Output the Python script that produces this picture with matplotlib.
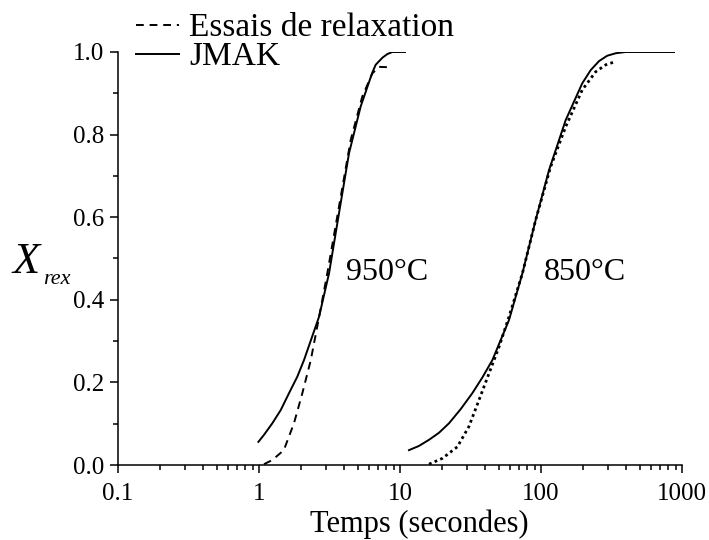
import matplotlib
matplotlib.use("Agg")
import matplotlib.pyplot as plt
from matplotlib.ticker import MultipleLocator, FixedLocator, LogLocator, NullFormatter

# 950°C : essais de relaxation (courbe tiretée)
t_exp_950 = [1.085, 1.243, 1.50, 1.77, 2.03, 2.33, 2.67, 3.05, 3.69, 4.47, 5.40, 6.36, 7.10, 8.59]
x_exp_950 = [0.002, 0.012, 0.036, 0.101, 0.174, 0.254, 0.359, 0.464, 0.625, 0.787, 0.892, 0.948, 0.964, 0.963]

# 950°C : JMAK
t_jmak_950 = [0.99, 1.085, 1.243, 1.426, 1.633, 1.87, 2.085, 2.666, 3.138, 3.69, 4.35, 5.26,
              6.36, 6.72, 7.49, 8.13, 8.82, 10.85]
x_jmak_950 = [0.056, 0.073, 0.101, 0.133, 0.174, 0.214, 0.254, 0.359, 0.464, 0.609, 0.755, 0.868,
              0.950, 0.969, 0.986, 0.995, 1.0, 1.0]

# 850°C : essais de relaxation (pointillés)
t_exp_850 = [16.06, 19.95, 25.5, 30.8, 36.3, 42.8, 50.4, 59.3, 73.8, 91.6, 117, 149.6, 196, 244, 288, 339]
x_exp_850 = [0.002, 0.016, 0.044, 0.093, 0.157, 0.222, 0.286, 0.359, 0.464, 0.593, 0.722, 0.819, 0.908, 0.952, 0.969, 0.977]

# 850°C : JMAK
t_jmak_850 = [11.58, 13.6, 16.06, 18.9, 22.26, 26.9, 32.6, 38.4, 45.2, 59.3, 73.8, 91.6, 114,
              149.6, 196, 225, 258, 295, 339, 398, 878]
x_jmak_850 = [0.036, 0.046, 0.061, 0.078, 0.101, 0.135, 0.174, 0.212, 0.254, 0.351, 0.464, 0.593, 0.714,
              0.835, 0.924, 0.956, 0.978, 0.991, 0.997, 1.0, 1.0]

xticks = [0.1, 1, 10, 100, 1000]
xticklabels = ['0.1', '1', '10', '100', '1000']
yticks = [0.0, 0.2, 0.4, 0.6, 0.8, 1.0]

plt.rcParams['font.family'] = ['Liberation Serif', 'DejaVu Serif']

fig = plt.figure(figsize=(7.09, 5.4), dpi=100)
ax = fig.add_axes([118/709, 75/540, 564/709, 413/540])

lw = 1.4
l_exp, = ax.plot(t_exp_950, x_exp_950, color='black', lw=lw, dashes=(4, 3),
                 label='Essais de relaxation')
l_jmak, = ax.plot(t_jmak_950, x_jmak_950, color='black', lw=lw, label='JMAK')
ax.plot(t_exp_850, x_exp_850, color='black', lw=2.0, dashes=(1, 1.2))
ax.plot(t_jmak_850, x_jmak_850, color='black', lw=lw)

ax.text(4.15, 0.467, '950°C', fontsize=23, va='center', ha='left')
ax.text(105, 0.467, '850°C', fontsize=23, va='center', ha='left')

ax.set_xscale('log')
ax.set_xlim(0.1, 1000)
ax.set_ylim(0, 1)
ax.xaxis.set_major_locator(FixedLocator(xticks))
ax.set_xticklabels(xticklabels)
ax.xaxis.set_minor_locator(LogLocator(base=10, subs=range(2, 10)))
ax.xaxis.set_minor_formatter(NullFormatter())
ax.yaxis.set_major_locator(FixedLocator(yticks))
ax.set_yticklabels([f'{v:.1f}' for v in yticks])
ax.yaxis.set_minor_locator(MultipleLocator(0.1))

for s in ['top', 'right']:
    ax.spines[s].set_visible(False)
for s in ['left', 'bottom']:
    ax.spines[s].set_linewidth(1.1)

ax.tick_params(which='major', direction='out', length=6, width=1.1, labelsize=18, pad=4)
ax.tick_params(axis='x', which='major', pad=7)
ax.tick_params(which='minor', direction='out', length=3.5, width=1.1)

ax.set_xlabel('Temps (secondes)', fontsize=22, va='top')
ax.xaxis.set_label_coords(0.534, -0.108)

fig.text(12/709, 1 - 262/540, 'X', fontsize=32, style='italic', ha='left', va='center')
fig.text(43/709, 1 - 280/540, 'rex', fontsize=16, style='italic', ha='left', va='center')

fig.legend(handles=[l_exp, l_jmak], loc='upper left', bbox_to_anchor=(136/709, 1 - 13/540),
           frameon=False, fontsize=24, handlelength=1.3, handletextpad=0.3,
           labelspacing=-0.05, borderpad=0, borderaxespad=0)

fig.savefig('out.png', dpi=100)
